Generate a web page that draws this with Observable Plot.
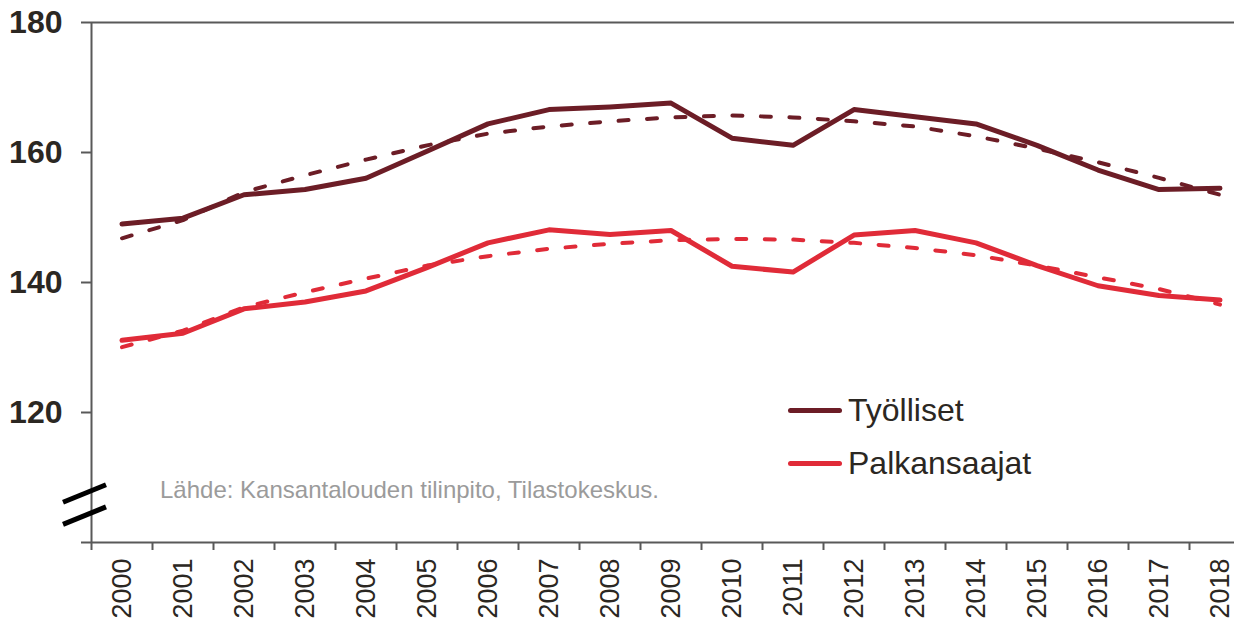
<!DOCTYPE html>
<html>
<head>
<meta charset="utf-8">
<script src="https://cdn.jsdelivr.net/npm/d3@7"></script>
<script src="https://cdn.jsdelivr.net/npm/@observablehq/plot@0.6"></script>
<style>
  html, body { margin: 0; padding: 0; background: #fff; }
  #wrap { position: relative; width: 1234px; height: 620px; font-family: "Liberation Sans", Arial, sans-serif; overflow: hidden; }
  .leg { position: absolute; left: 788px; display: flex; align-items: center; font-size: 32px; color: #2b2722; }
  .leg .sw { width: 54px; height: 5px; border-radius: 3px; margin-right: 6px; }
  #source { position: absolute; left: 160px; top: 476px; font-size: 24px; color: #9b9b9b; white-space: nowrap; }
</style>
</head>
<body>
<div id="wrap"></div>
<script>
const years = [2000, 2001, 2002, 2003, 2004, 2005, 2006, 2007, 2008, 2009, 2010, 2011, 2012, 2013, 2014, 2015, 2016, 2017, 2018];
const tyolliset = [149.0, 149.9, 153.5, 154.3, 156.05, 160.2, 164.4, 166.6, 167.0, 167.6, 162.2, 161.1, 166.6, 165.5, 164.4, 161.1, 157.3, 154.3, 154.5];
const tyollisetTrend = [146.8, 149.6, 153.9, 156.5, 158.9, 161.1, 162.9, 164.0, 164.8, 165.4, 165.7, 165.4, 164.8, 164.0, 162.5, 160.6, 158.5, 156.1, 153.5];
const palkansaajat = [131.1, 132.2, 135.95, 137.0, 138.7, 142.3, 146.1, 148.1, 147.4, 148.0, 142.5, 141.6, 147.3, 148.0, 146.1, 142.6, 139.5, 138.0, 137.3];
const palkansaajatTrend = [130.05, 132.6, 136.2, 138.5, 140.6, 142.6, 144.05, 145.2, 145.95, 146.5, 146.7, 146.6, 146.1, 145.3, 144.2, 142.6, 140.8, 139.0, 136.6];
const yTicks = [100, 120, 140, 160, 180];
const seriesNames = ["Työlliset", "Palkansaajat"];
const sourceText = "Lähde: Kansantalouden tilinpito, Tilastokeskus.";

const colTy = "#6c1d26";
const colPa = "#e02b38";
const axisCol = "#595959";

const rows = (vals) => years.map((yr, i) => ({year: yr, value: vals[i]}));
const bounds = years.map(y => y - 0.5).concat([years[years.length - 1] + 0.5]);
const xDomain = [years[0] - 0.5, years[years.length - 1] + 0.5];

const breakMark = (index, scales, values, dimensions) => {
  const g = d3.create("svg:g");
  const x0 = dimensions.marginLeft;
  [107.5, 104.1].forEach(v => {
    const yc = scales.y(v);
    g.append("line")
      .attr("x1", x0 - 28).attr("y1", yc + 9)
      .attr("x2", x0 + 15).attr("y2", yc - 8.5)
      .attr("stroke", "#000").attr("stroke-width", 5);
  });
  return g.node();
};

const chart = Plot.plot({
  width: 1234,
  height: 620,
  marginTop: 22,
  marginBottom: 78,
  marginLeft: 91,
  marginRight: 0,
  style: {fontFamily: "'Liberation Sans', Arial, sans-serif", background: "transparent", overflow: "visible"},
  x: {type: "linear", domain: xDomain, range: [91, 1250]},
  y: {domain: [100, 180]},
  marks: [
    Plot.ruleY([180, 100], {stroke: axisCol, strokeWidth: 2}),
    Plot.ruleX([xDomain[0]], {y1: 100, y2: 180, stroke: axisCol, strokeWidth: 2}),
    Plot.axisY({ticks: yTicks, tickSize: 10, tickPadding: 19, stroke: axisCol, strokeWidth: 2,
      tickFormat: d => d === 100 ? "" : String(d), fontSize: 32, fontWeight: "bold", fill: "#2b2722", label: null}),
    Plot.axisX({ticks: bounds, tickSize: 8, tickFormat: () => "", stroke: axisCol, strokeWidth: 2, label: null}),
    Plot.axisX({ticks: years, tickSize: 0, tickPadding: 16, tickRotate: -90, tickFormat: d => String(d),
      fontSize: 27, fill: "#2b2722", label: null}),
    breakMark,
    Plot.line(rows(tyolliset), {x: "year", y: "value", stroke: colTy, strokeWidth: 5, strokeLinecap: "round", strokeLinejoin: "round"}),
    Plot.line(rows(palkansaajat), {x: "year", y: "value", stroke: colPa, strokeWidth: 5, strokeLinecap: "round", strokeLinejoin: "round"}),
    Plot.line(rows(tyollisetTrend), {x: "year", y: "value", stroke: colTy, strokeWidth: 4, strokeDasharray: "10 18.5", strokeLinecap: "round"}),
    Plot.line(rows(palkansaajatTrend), {x: "year", y: "value", stroke: colPa, strokeWidth: 4, strokeDasharray: "10 18.5", strokeLinecap: "round"})
  ]
});

const wrap = document.getElementById("wrap");
wrap.appendChild(chart);

[[seriesNames[0], colTy, 410], [seriesNames[1], colPa, 463]].forEach(([name, col, yc]) => {
  const d = document.createElement("div");
  d.className = "leg";
  d.style.top = (yc - 18) + "px";
  d.style.height = "36px";
  d.innerHTML = `<span class="sw" style="background:${col}"></span><span>${name}</span>`;
  wrap.appendChild(d);
});
const s = document.createElement("div");
s.id = "source";
s.textContent = sourceText;
wrap.appendChild(s);
</script>
</body>
</html>
